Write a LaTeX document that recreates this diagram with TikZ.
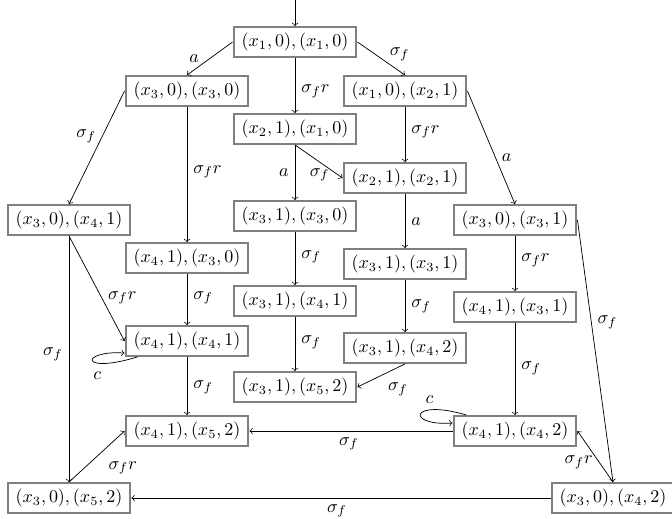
\documentclass[tikz,border=0pt]{standalone}
\begin{document}
\begin{tikzpicture}[x=0.5556pt, y=-0.5556pt,
  st/.style={draw=gray, line width=1.3pt, inner xsep=4.4pt, inner ysep=3.2pt},
  tr/.style={->, line width=0.4pt}]
\useasboundingbox (0,0) rectangle (672,519);
\node[st] (A) at (295,42) {$(x_1,0),(x_1,0)$};
\node[st] (B) at (187,91) {$(x_3,0),(x_3,0)$};
\node[st] (C) at (405,91) {$(x_1,0),(x_2,1)$};
\node[st] (D) at (295,129) {$(x_2,1),(x_1,0)$};
\node[st] (E) at (405,178) {$(x_2,1),(x_2,1)$};
\node[st] (F) at (69,220) {$(x_3,0),(x_4,1)$};
\node[st] (G) at (295,216) {$(x_3,1),(x_3,0)$};
\node[st] (H) at (515,220) {$(x_3,0),(x_3,1)$};
\node[st] (I) at (187,258) {$(x_4,1),(x_3,0)$};
\node[st] (J) at (405,264) {$(x_3,1),(x_3,1)$};
\node[st] (K) at (295,301) {$(x_3,1),(x_4,1)$};
\node[st] (L) at (515,307) {$(x_4,1),(x_3,1)$};
\node[st] (M) at (187,341) {$(x_4,1),(x_4,1)$};
\node[st] (N) at (405,348) {$(x_3,1),(x_4,2)$};
\node[st] (O) at (295,387) {$(x_3,1),(x_5,2)$};
\node[st] (P) at (187,431) {$(x_4,1),(x_5,2)$};
\node[st] (Q) at (515,431) {$(x_4,1),(x_4,2)$};
\node[st] (R) at (69,498) {$(x_3,0),(x_5,2)$};
\node[st] (S) at (613,498) {$(x_3,0),(x_4,2)$};
\coordinate (init) at (295,0);

\draw[tr] (init) -- (A);
\draw[tr] (A.west) -- (B.north) node[pos=0.6, anchor=south east, yshift=-4pt] {$a$};
\draw[tr] (A.east) -- (C.north) node[pos=0.55, anchor=south west, yshift=-4pt] {$\sigma_f$};
\draw[tr] (A) -- (D) node[pos=0.6, right] {$\sigma_f r$};
\draw[tr] (B.west) -- (F.north) node[pos=0.4, left] {$\sigma_f$};
\draw[tr] (B) -- (I) node[pos=0.48, right] {$\sigma_f r$};
\draw[tr] (C) -- (E) node[pos=0.45, right] {$\sigma_f r$};
\draw[tr] (C.east) -- (H.north) node[pos=0.59, right] {$a$};
\draw[tr] (D) -- (G) node[pos=0.5, left] {$a$};
\draw[tr] (D.south) -- (E.west) node[pos=0.52, below] {$\sigma_f$};
\draw[tr] (E) -- (J) node[pos=0.52, right] {$a$};
\draw[tr] (F.south) -- (M.west) node[pos=0.59, right] {$\sigma_f r$};
\draw[tr] (F) -- (R) node[pos=0.48, left] {$\sigma_f$};
\draw[tr] (G) -- (K) node[pos=0.47, right] {$\sigma_f$};
\draw[tr] (H) -- (L) node[pos=0.44, right] {$\sigma_f r$};
\draw[tr] (H.east) -- (S.north) node[pos=0.39, right] {$\sigma_f$};
\draw[tr] (I) -- (M) node[pos=0.47, right] {$\sigma_f$};
\draw[tr] (J) -- (N) node[pos=0.5, right] {$\sigma_f$};
\draw[tr] (K) -- (O) node[pos=0.47, right] {$\sigma_f$};
\draw[tr] (L) -- (Q) node[pos=0.49, right] {$\sigma_f$};
\draw[tr] (M) -- (P) node[pos=0.52, right] {$\sigma_f$};
\draw[tr] (N.south) -- (O.east) node[pos=0.15, below=5pt] {$\sigma_f$};
\draw[tr] (Q) -- (P) node[pos=0.51, below] {$\sigma_f$};
\draw[tr] (S.north) -- (Q.east) node[pos=0.39, left] {$\sigma_f r$};
\draw[tr] (S) -- (R) node[pos=0.51, below] {$\sigma_f$};
\draw[tr] (R.north) -- (P.west) node[pos=0.6, anchor=north west, yshift=-2pt] {$\sigma_f r$};
\draw[tr] ([xshift=7.2pt]M.south west) .. controls +(-59,18) and +(-44,-3) .. ([yshift=-6.7pt]M.west) node[pos=0.35, below=1.5pt] {$c$};
\draw[tr] ([xshift=7.8pt]Q.north west) .. controls +(-57,-17) and +(-47,3) .. ([yshift=4.4pt]Q.west) node[pos=0.3, above] {$c$};
\end{tikzpicture}
\end{document}
